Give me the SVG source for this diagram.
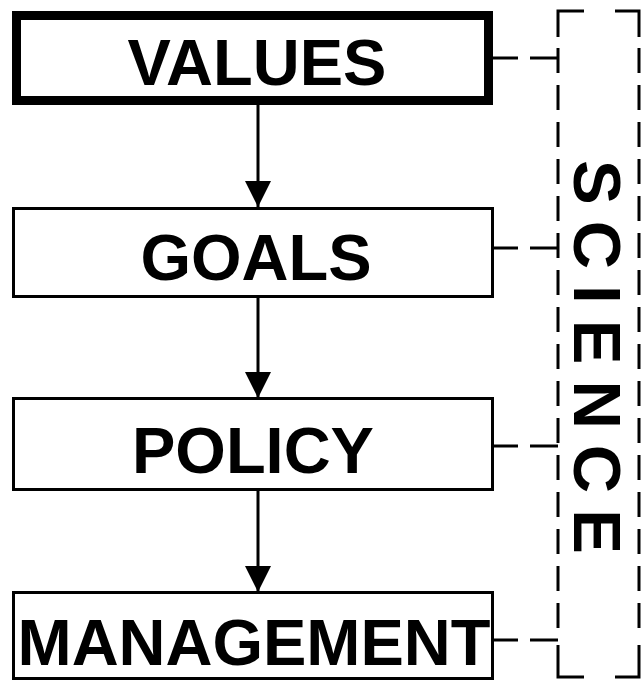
<svg xmlns="http://www.w3.org/2000/svg" width="641" height="681" viewBox="0 0 641 681">
<style>
.box{fill:#fff;stroke:#000;stroke-width:3}
.thick{fill:#fff;stroke:#000;stroke-width:9}
.lbl{font-family:"Liberation Sans",Arial,sans-serif;font-weight:bold;font-size:65px;text-anchor:middle;fill:#000}
.line{stroke:#000;stroke-width:3;fill:none}
.dash{stroke:#000;stroke-width:3;fill:none;stroke-dasharray:25 12}
</style>
<defs>
<marker id="ah" markerWidth="26" markerHeight="26" refX="26" refY="13" orient="auto" markerUnits="userSpaceOnUse">
<path d="M0,0 L26,13 L0,26 Z" fill="#000"/>
</marker>
</defs>
<rect width="641" height="681" fill="#fff"/>
<g id="connectors">
<line class="line" x1="258" y1="105" x2="258" y2="207" marker-end="url(#ah)"/>
<line class="line" x1="258" y1="297" x2="258" y2="398" marker-end="url(#ah)"/>
<line class="line" x1="258" y1="490" x2="258" y2="592" marker-end="url(#ah)"/>
<path class="line" d="M493,58 H518 M530,58 H558"/>
<path class="line" d="M493,248 H518 M530,248 H558"/>
<path class="line" d="M493,446 H518 M530,446 H558"/>
<path class="line" d="M493,640 H518 M530,640 H558"/>
</g>
<g id="science">
<path class="line" d="M584,11 H558 V37"/>
<path class="dash" d="M558,48 V640"/>
<path class="line" d="M558,645 V677 H584"/>
<path class="line" d="M615,11 H639 V37"/>
<path class="dash" d="M639,48 V640"/>
<path class="line" d="M639,645 V677 H615"/>
<text transform="translate(574,160) rotate(90)" font-family="'Liberation Sans',Arial,sans-serif" font-weight="bold" font-size="67" letter-spacing="16" fill="#000">SCIENCE</text>
</g>
<g id="values">
<rect class="thick" x="16.5" y="15.5" width="472" height="85"/>
<text class="lbl" x="257" y="85">VALUES</text>
</g>
<g id="goals">
<rect class="box" x="13.5" y="208.5" width="479" height="88"/>
<text class="lbl" x="256" y="280">GOALS</text>
</g>
<g id="policy">
<rect class="box" x="13.5" y="398.5" width="479" height="91"/>
<text class="lbl" x="253" y="473">POLICY</text>
</g>
<g id="management">
<rect class="box" x="13.5" y="592.5" width="479" height="86"/>
<text class="lbl" x="254" y="665">MANAGEMENT</text>
</g>
</svg>
